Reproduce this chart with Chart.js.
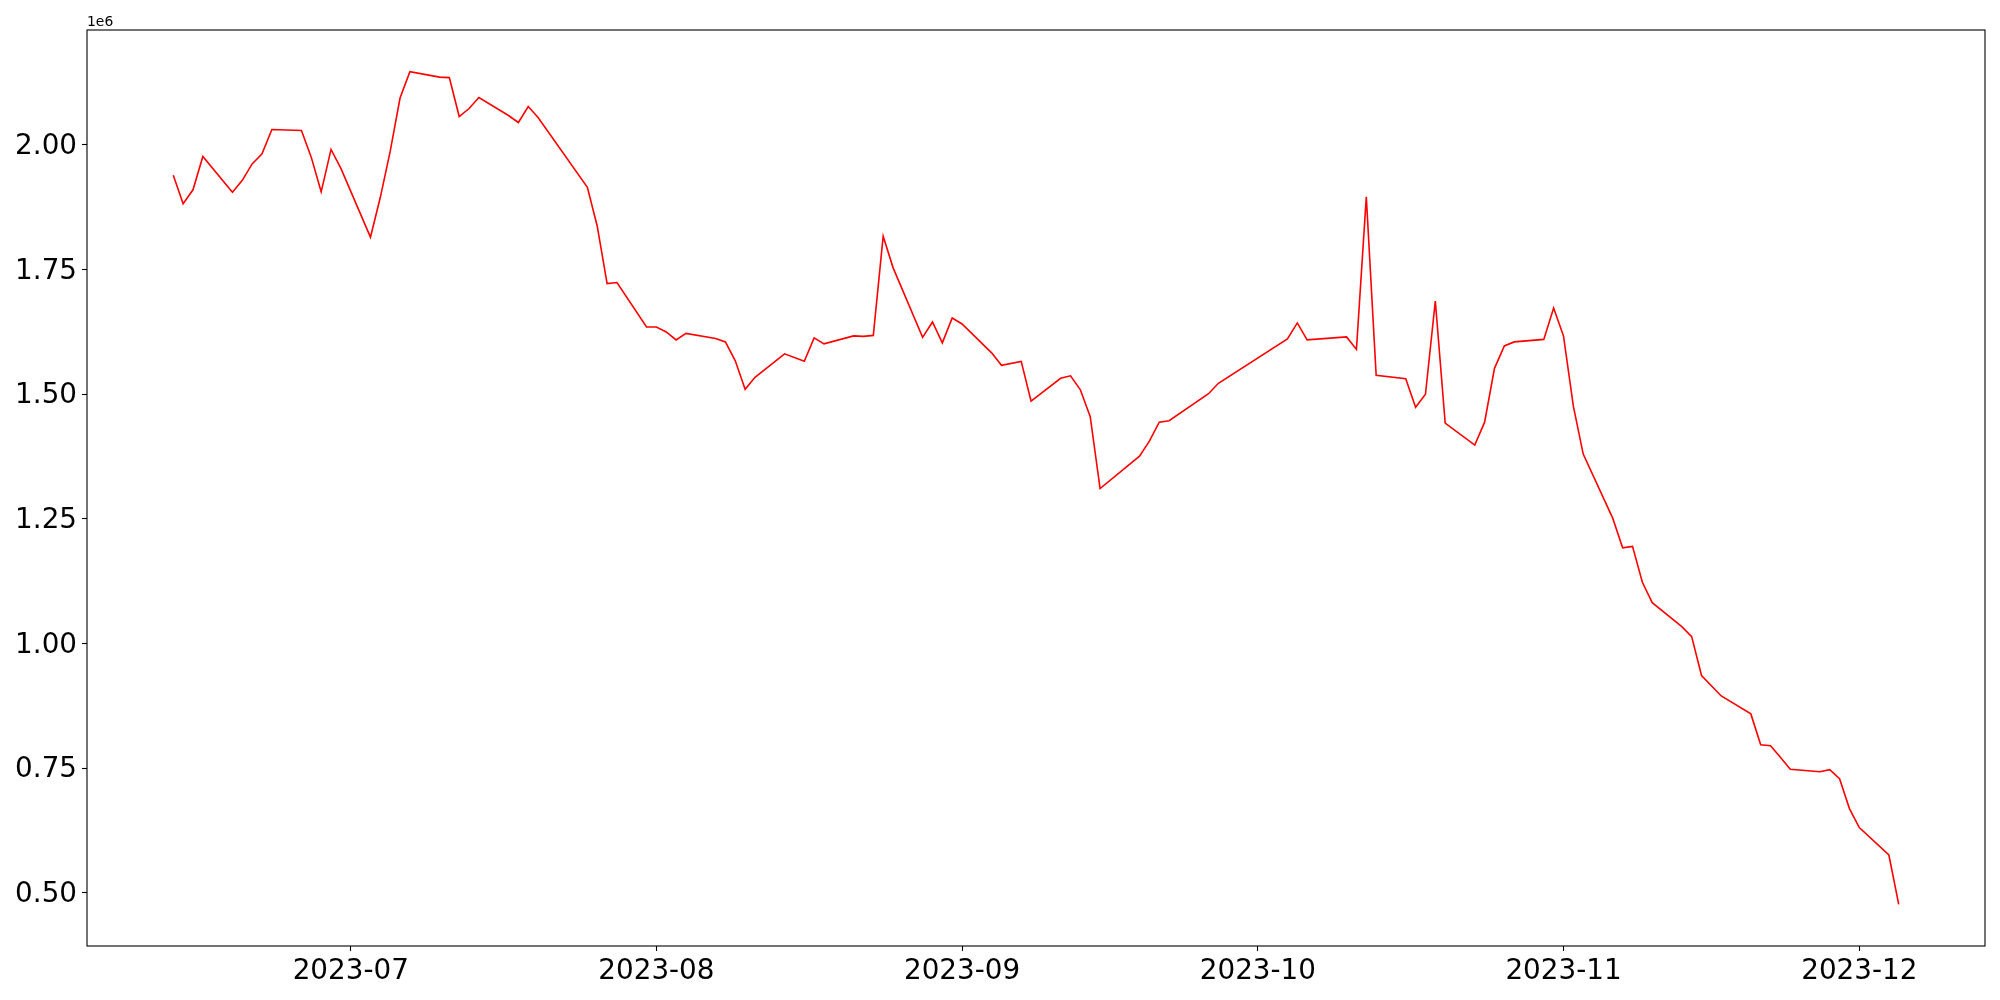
<!DOCTYPE html>
<html>
<head>
<meta charset="utf-8">
<title>Line chart</title>
<script src="https://cdn.jsdelivr.net/npm/chart.js@4.4.1/dist/chart.umd.min.js"></script>
<style>
  html, body { margin: 0; padding: 0; background: #fff; }
  #chart { display: block; }
</style>
</head>
<body>
<canvas id="chart" width="2000" height="1000"></canvas>
<script>
// Data (values in units, axis shows them as 1e6)
const dates = [
  '2023-06-13', '2023-06-14', '2023-06-15', '2023-06-16', '2023-06-19', '2023-06-20', '2023-06-21', '2023-06-22', '2023-06-23',
  '2023-06-26', '2023-06-27', '2023-06-28', '2023-06-29', '2023-06-30', '2023-07-03', '2023-07-04', '2023-07-05', '2023-07-06',
  '2023-07-07', '2023-07-10', '2023-07-11', '2023-07-12', '2023-07-13', '2023-07-14', '2023-07-17', '2023-07-18', '2023-07-19',
  '2023-07-20', '2023-07-25', '2023-07-26', '2023-07-27', '2023-07-28', '2023-07-31', '2023-08-01', '2023-08-02', '2023-08-03',
  '2023-08-04', '2023-08-07', '2023-08-08', '2023-08-09', '2023-08-10', '2023-08-11', '2023-08-14', '2023-08-16', '2023-08-17',
  '2023-08-18', '2023-08-21', '2023-08-22', '2023-08-23', '2023-08-24', '2023-08-25', '2023-08-28', '2023-08-29', '2023-08-30',
  '2023-08-31', '2023-09-01', '2023-09-04', '2023-09-05', '2023-09-07', '2023-09-08', '2023-09-11', '2023-09-12', '2023-09-13',
  '2023-09-14', '2023-09-15', '2023-09-19', '2023-09-20', '2023-09-21', '2023-09-22', '2023-09-26', '2023-09-27', '2023-10-04',
  '2023-10-05', '2023-10-06', '2023-10-10', '2023-10-11', '2023-10-12', '2023-10-13', '2023-10-16', '2023-10-17', '2023-10-18',
  '2023-10-19', '2023-10-20', '2023-10-23', '2023-10-24', '2023-10-25', '2023-10-26', '2023-10-27', '2023-10-30', '2023-10-31',
  '2023-11-01', '2023-11-02', '2023-11-03', '2023-11-06', '2023-11-07', '2023-11-08', '2023-11-09', '2023-11-10', '2023-11-13',
  '2023-11-14', '2023-11-15', '2023-11-17', '2023-11-20', '2023-11-21', '2023-11-22', '2023-11-23', '2023-11-24', '2023-11-27',
  '2023-11-28', '2023-11-29', '2023-11-30', '2023-12-01', '2023-12-04', '2023-12-05'
];

const values = [
  1939000, 1882000, 1910000, 1977000, 1905000, 1929000, 1962000, 1982000, 2031000,
  2029000, 1975000, 1906000, 1991000, 1953000, 1815000, 1895000, 1987000, 2094000,
  2147000, 2136000, 2135000, 2057000, 2073000, 2095000, 2059000, 2045000, 2077000,
  2055000, 1915000, 1837000, 1722000, 1724000, 1635000, 1635000, 1625000, 1609000,
  1622000, 1612000, 1605000, 1567000, 1510000, 1534000, 1581000, 1566000, 1613000,
  1601000, 1617000, 1616000, 1618000, 1817000, 1754000, 1614000, 1645000, 1603000,
  1653000, 1641000, 1583000, 1558000, 1566000, 1486000, 1532000, 1537000, 1509000,
  1455000, 1311000, 1376000, 1406000, 1444000, 1447000, 1501000, 1522000, 1611000,
  1643000, 1609000, 1615000, 1590000, 1896000, 1538000, 1531000, 1474000, 1500000,
  1687000, 1442000, 1398000, 1444000, 1552000, 1597000, 1605000, 1610000, 1673000,
  1617000, 1476000, 1380000, 1251000, 1192000, 1195000, 1123000, 1082000, 1034000,
  1014000, 936000, 895000, 859000, 797000, 795000, 772000, 748000, 743000,
  747000, 729000, 669000, 631000, 576000, 477000
];

const xTickDates = ['2023-07-01', '2023-08-01', '2023-09-01', '2023-10-01', '2023-11-01', '2023-12-01'];
const xTickLabels = ['2023-07', '2023-08', '2023-09', '2023-10', '2023-11', '2023-12'];
const yTicks = [500000, 750000, 1000000, 1250000, 1500000, 1750000, 2000000];
const offsetLabel = '1e6';

document.addEventListener('DOMContentLoaded', () => {
  const dayNum = d => Date.parse(d) / 86400000;

  const points = dates.map((d, i) => ({ x: dayNum(d), y: values[i] }));

  // matplotlib-like 5% autoscale margins
  const xFirst = points[0].x;
  const xLast = points[points.length - 1].x;
  const xPad = (xLast - xFirst) * 0.05;
  const yMin = Math.min(...values);
  const yMax = Math.max(...values);
  const yPad = (yMax - yMin) * 0.05;

  const tickFont = { family: '"DejaVu Sans", sans-serif', size: 27.8 };

  // box around the plot area plus the "1e6" offset text
  const framePlugin = {
    id: 'frame',
    afterDraw(chart) {
      const { ctx, chartArea } = chart;
      ctx.save();
      ctx.strokeStyle = '#000';
      ctx.lineWidth = 1.1;
      ctx.strokeRect(chartArea.left, chartArea.top, chartArea.right - chartArea.left, chartArea.bottom - chartArea.top);
      ctx.fillStyle = '#000';
      ctx.font = '13.9px "DejaVu Sans", sans-serif';
      ctx.textAlign = 'left';
      ctx.textBaseline = 'alphabetic';
      ctx.fillText(offsetLabel, chartArea.left, chartArea.top - 4);
      ctx.restore();
    }
  };

  const ctx = document.getElementById('chart').getContext('2d');
  new Chart(ctx, {
    type: 'line',
    data: {
      datasets: [{
        data: points,
        borderColor: '#ff0000',
        borderWidth: 1.6,
        pointRadius: 0,
        tension: 0,
        fill: false
      }]
    },
    options: {
      responsive: false,
      animation: false,
      devicePixelRatio: 1,
      layout: { padding: { left: 0, top: 30, right: 15, bottom: 0 } },
      plugins: {
        legend: { display: false },
        tooltip: { enabled: false }
      },
      scales: {
        x: {
          type: 'linear',
          min: xFirst - xPad,
          max: xLast + xPad,
          afterBuildTicks: scale => {
            scale.ticks = xTickDates.map(d => ({ value: dayNum(d) }));
          },
          afterFit: scale => { scale.height = 54; },
          grid: { display: true, drawOnChartArea: false, drawTicks: true, tickLength: 5, tickWidth: 1.1, tickColor: '#000' },
          border: { display: false },
          ticks: {
            autoSkip: false,
            maxRotation: 0,
            padding: 4,
            color: '#000',
            font: tickFont,
            callback: (value, index) => xTickLabels[index]
          }
        },
        y: {
          type: 'linear',
          min: yMin - yPad,
          max: yMax + yPad,
          afterBuildTicks: scale => {
            scale.ticks = yTicks.map(v => ({ value: v }));
          },
          afterFit: scale => { scale.width = 87; },
          grid: { display: true, drawOnChartArea: false, drawTicks: true, tickLength: 5, tickWidth: 1.1, tickColor: '#000' },
          border: { display: false },
          ticks: {
            autoSkip: false,
            padding: 5,
            labelOffset: 2,
            color: '#000',
            font: tickFont,
            callback: value => (value / 1e6).toFixed(2)
          }
        }
      }
    },
    plugins: [framePlugin]
  });
});
</script>
</body>
</html>
